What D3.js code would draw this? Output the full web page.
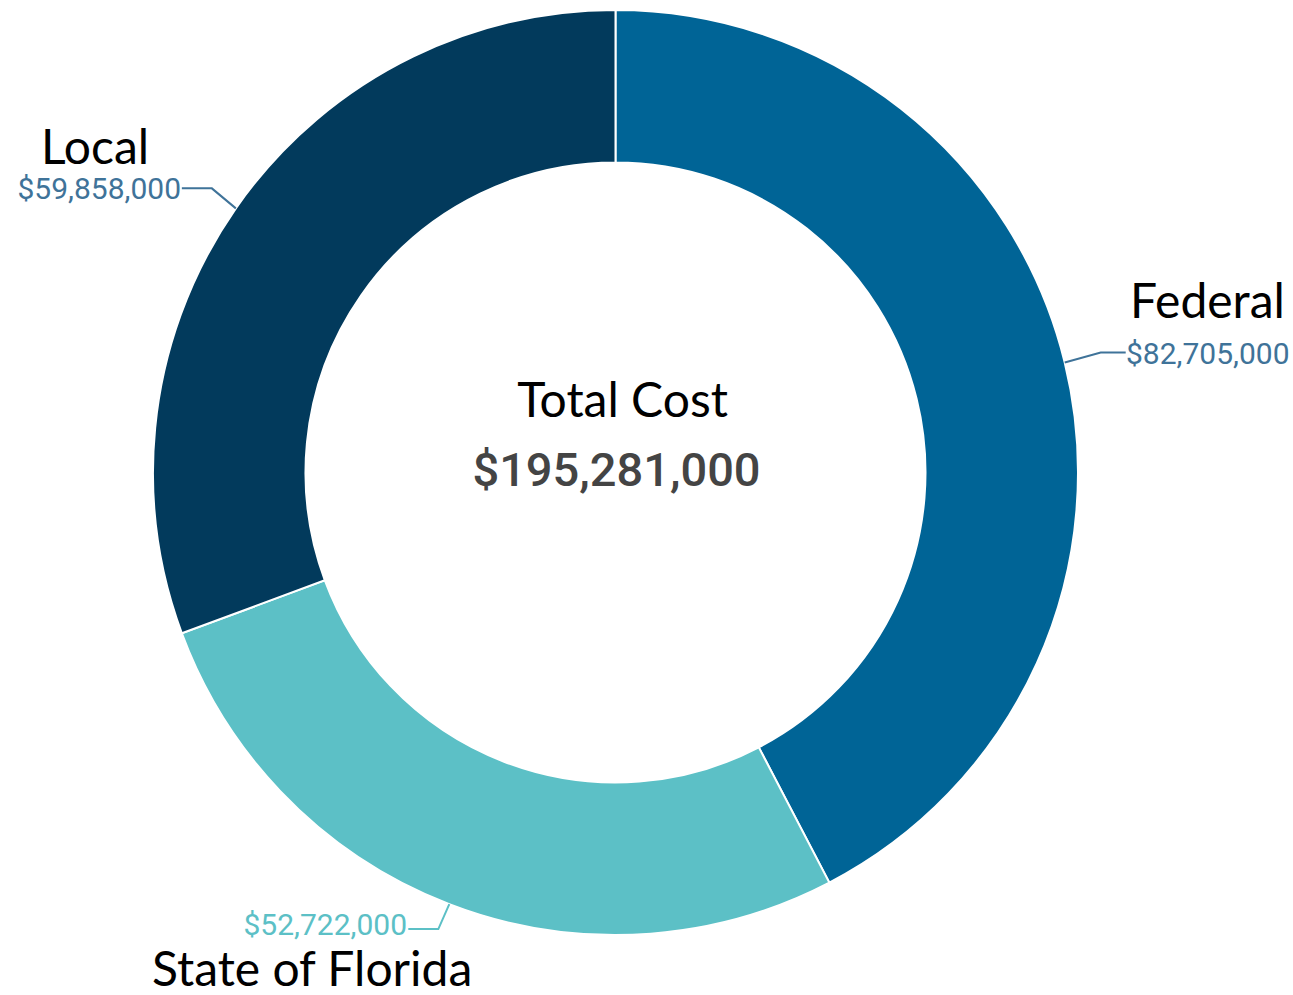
<!DOCTYPE html>
<html>
<head>
<meta charset="utf-8">
<script src="https://cdn.jsdelivr.net/npm/d3@7"></script>
<style>
  body { margin: 0; background: #fff; }
  svg { display: block; }
</style>
</head>
<body>
<div id="chart"></div>
<script>
const categories = ["Federal", "State of Florida", "Local"];
const amounts = [82705000, 52722000, 59858000];
const totalCost = 195281000; // as printed on the chart
const sliceColors = ["#006496", "#5cc0c6", "#023a5c"];
const labelColors = ["#3f7399", "#5cc0c6", "#3f7399"];
const totalTitle = "Total Cost";

const width = 1293;
const height = 995;
const cx = 615.5;
const cy = 472.5;
const outerR = 462.5;
const innerR = 310;

// label placement per slice: elbow offset from the ring point, line run, text spots
const labelLayout = [
  { elbow: [36, -10], run: 25, name: [1130, 318, "start"], value: [1126, 364, "start"] },
  { elbow: [-11, 25], run: -30, name: [152, 986, "start"], value: [407, 935, "end"] },
  { elbow: [-24, -20], run: -30, name: [95, 164, "middle"], value: [181, 199, "end"] }
];

const fmt = d3.format("$,");

const svg = d3.select("#chart")
  .append("svg")
  .attr("width", width)
  .attr("height", height);

const slices = d3.pie()
  .sort(null)
  .value(d => d.amount)(categories.map((c, i) => ({ name: c, amount: amounts[i], i })));

const arc = d3.arc().innerRadius(innerR).outerRadius(outerR);

const g = svg.append("g").attr("transform", `translate(${cx},${cy})`);

g.selectAll("path.slice")
  .data(slices)
  .enter()
  .append("path")
  .attr("class", "slice")
  .attr("d", arc)
  .attr("fill", d => sliceColors[d.data.i])
  .attr("stroke", "#fff")
  .attr("stroke-width", 2);

// leader lines start on the outer edge at each slice's middle angle
slices.forEach(d => {
  const lay = labelLayout[d.data.i];
  const mid = (d.startAngle + d.endAngle) / 2;
  const p0 = [outerR * Math.sin(mid), -outerR * Math.cos(mid)];
  const p1 = [p0[0] + lay.elbow[0], p0[1] + lay.elbow[1]];
  const p2 = [p1[0] + lay.run, p1[1]];
  g.append("polyline")
    .attr("points", [p0, p1, p2].map(p => p.join(",")).join(" "))
    .attr("fill", "none")
    .attr("stroke", labelColors[d.data.i])
    .attr("stroke-width", 2);

  svg.append("text")
    .attr("x", lay.value[0])
    .attr("y", lay.value[1])
    .attr("text-anchor", lay.value[2])
    .attr("font-family", "Roboto, sans-serif")
    .attr("font-size", 30)
    .attr("fill", labelColors[d.data.i])
    .text(fmt(d.data.amount));

  svg.append("text")
    .attr("x", lay.name[0])
    .attr("y", lay.name[1])
    .attr("text-anchor", lay.name[2])
    .attr("font-family", "Lato, 'Open Sans', sans-serif")
    .attr("font-size", 48)
    .attr("fill", "#000")
    .text(d.data.name);
});

svg.append("text")
  .attr("x", cx + 7)
  .attr("y", 417)
  .attr("text-anchor", "middle")
  .attr("font-family", "Lato, 'Open Sans', sans-serif")
  .attr("font-size", 48)
  .attr("fill", "#000")
  .text(totalTitle);

svg.append("text")
  .attr("x", cx + 1)
  .attr("y", 486)
  .attr("text-anchor", "middle")
  .attr("font-family", "Roboto, sans-serif")
  .attr("font-weight", 500)
  .attr("font-size", 47)
  .attr("fill", "#444")
  .text(fmt(totalCost));
</script>
</body>
</html>
